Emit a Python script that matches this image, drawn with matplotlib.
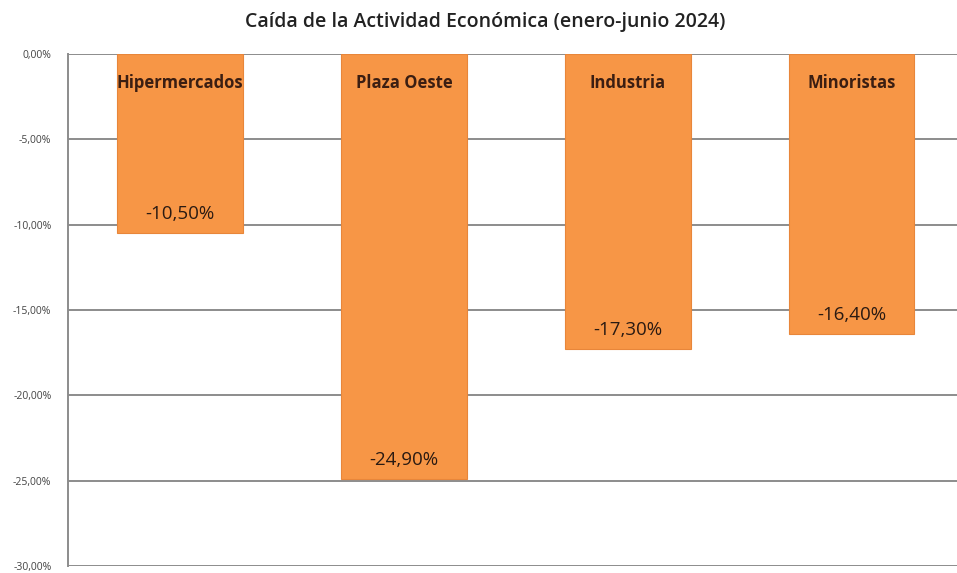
import matplotlib.pyplot as plt
from matplotlib.ticker import FuncFormatter

categories = ['Hipermercados', 'Plaza Oeste', 'Industria', 'Minoristas']
values = [-10.50, -24.90, -17.30, -16.40]
yticks = [0, -5, -10, -15, -20, -25, -30]

plt.rcParams['font.family'] = ['Open Sans', 'DejaVu Sans']

fig = plt.figure(figsize=(9.57, 5.73), dpi=100)
ax = fig.add_axes([68 / 957, 7 / 573, 1 - 68 / 957, 512 / 573])

x = range(len(categories))
ax.bar(x, values, width=0.56, color='#F79646', edgecolor='#E8863A', linewidth=0.8, zorder=2)

ax.set_ylim(-30, 0)
ax.set_xlim(-0.5, 3.47)
ax.set_yticks(yticks)
ax.yaxis.set_major_formatter(FuncFormatter(lambda v, p: f'{v:.2f}%'.replace('.', ',')))
ax.tick_params(axis='y', length=0, labelsize=7.5, labelcolor='#444444', pad=12)
ax.set_xticks([])
ax.grid(axis='y', color='#8c8c8c', linewidth=1.4, zorder=1)

for s in ['top', 'right', 'bottom']:
    ax.spines[s].set_visible(False)
ax.spines['left'].set_color('#8c8c8c')
ax.spines['left'].set_linewidth(1.4)

for i, (c, v) in enumerate(zip(categories, values)):
    ax.annotate(c, (i, 0), xytext=(0, -29), textcoords='offset pixels',
                ha='center', va='center', fontsize=12, fontweight='bold', color='#3b1e12', zorder=3)
    ax.annotate(f'{v:.2f}%'.replace('.', ','), (i, v), xytext=(0, 19), textcoords='offset pixels',
                ha='center', va='center', fontsize=13.5, color='#2a1a12', zorder=3)

fig.text(0.507, 0.962, 'Caída de la Actividad Económica (enero-junio 2024)',
         ha='center', va='center', fontsize=14, fontweight='semibold', color='#222222')

fig.savefig('out.png', dpi=100)
